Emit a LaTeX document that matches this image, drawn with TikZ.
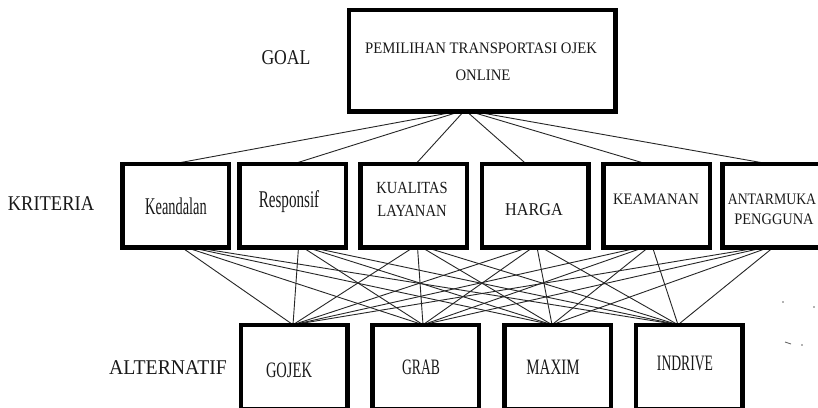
\documentclass[tikz,border=0pt]{standalone}
\usepackage{fontspec}
\setmainfont{Liberation Serif}
\usepackage{graphicx}
\newcommand{\sq}[2]{\scalebox{#1}[1]{#2}}
\newcommand{\fs}[1]{\fontsize{#1}{#1}\selectfont}
\begin{document}
\begin{tikzpicture}[x=1pt,y=-1pt,
  box/.style={draw=black, line width=4.5pt, fill=white, inner sep=0pt, minimum width=102pt, minimum height=79pt},
  conn/.style={draw=black!85, line width=0.9pt},
  lbl/.style={inner sep=0pt, text=black!90, align=center}]
\clip (0,0) rectangle (818,407);
\fill[white] (0,0) rectangle (818,407);
\coordinate (g) at (465,110);
\path
 node[box, minimum width=262pt, minimum height=97pt] (goal) at (482,60.5) {}
 node[box] (k1) at (175.5,205.5) {}
 node[box] (k2) at (292.5,205.5) {}
 node[box] (k3) at (413.5,205.5) {}
 node[box] (k4) at (535,205.5) {}
 node[box] (k5) at (656.5,205.5) {}
 node[box] (k6) at (775.5,205.5) {}
 node[box, minimum height=80pt] (a1) at (294,367) {}
 node[box, minimum height=80pt] (a2) at (425.5,367) {}
 node[box, minimum height=80pt] (a3) at (557.5,367) {}
 node[box, minimum height=80pt] (a4) at (689,367) {};
% connectors goal -> criteria
\foreach \i/\o in {1/-1.5,2/1.5,3/2.5,4/-9,5/-10.5,6/-7.5}
  \draw[conn] (g) -- ([xshift=\o]k\i.north);
% connectors criteria -> alternatives
\foreach \i/\ox in {1/12,2/12,3/6,4/0,5/-10,6/-8}
  \foreach \j/\oy in {1/-1,2/-2.5,3/-5.5,4/-11}
    \draw[conn] ([xshift={\ox+4*(\j-2.5)}]k\i.south) -- ([xshift=\oy]a\j.north);
% boxes on top of connector ends
\foreach \n in {goal,k1,k2,k3,k4,k5,k6,a1,a2,a3,a4}
  \draw[line width=4.5pt, fill=white] (\n.north west) rectangle (\n.south east);
% texts
\node[lbl] (tgoal) at (286,58) {\fs{21}\sq{0.84}{GOAL}};
\node[lbl] (tkrit) at (51,204) {\fs{21}\sq{0.88}{KRITERIA}};
\node[lbl] (talt) at (168,368) {\fs{21}\sq{0.94}{ALTERNATIF}};
\node[lbl] (tg1) at (481,48) {\fs{16}\sq{0.92}{PEMILIHAN TRANSPORTASI OJEK}};
\node[lbl] (tg2) at (483,75) {\fs{16}\sq{0.92}{ONLINE}};
\node[lbl] (tk1) at (176,206) {\fs{24}\sq{0.6}{Keandalan}};
\node[lbl] (tk2) at (289,202) {\fs{24}\sq{0.63}{Responsif}};
\node[lbl] (tk3a) at (412,188) {\fs{17}\sq{0.85}{KUALITAS}};
\node[lbl] (tk3b) at (412,211) {\fs{17}\sq{0.86}{LAYANAN}};
\node[lbl] (tk4) at (534,210) {\fs{18}\sq{0.9}{HARGA}};
\node[lbl] (tk5) at (656,199) {\fs{16}\sq{0.92}{KEAMANAN}};
\node[lbl] (tk6a) at (772,199) {\fs{16}\sq{0.86}{ANTARMUKA}};
\node[lbl] (tk6b) at (774,219) {\fs{16}\sq{0.9}{PENGGUNA}};
\node[lbl] (ta1) at (289,370) {\fs{22}\sq{0.66}{GOJEK}};
\node[lbl] (ta2) at (421,367) {\fs{22}\sq{0.62}{GRAB}};
\node[lbl] (ta3) at (553,367) {\fs{22}\sq{0.68}{MAXIM}};
\node[lbl] (ta4) at (685,363) {\fs{22}\sq{0.62}{INDRIVE}};
% specks
\fill[black!60] (783,302) circle (0.8);
\fill[black!60] (814,307) circle (0.8);
\fill[black!60] (802,345) circle (0.8);
\draw[black!60, line width=0.9pt] (785,342) -- (791,344);
\end{tikzpicture}
\end{document}
